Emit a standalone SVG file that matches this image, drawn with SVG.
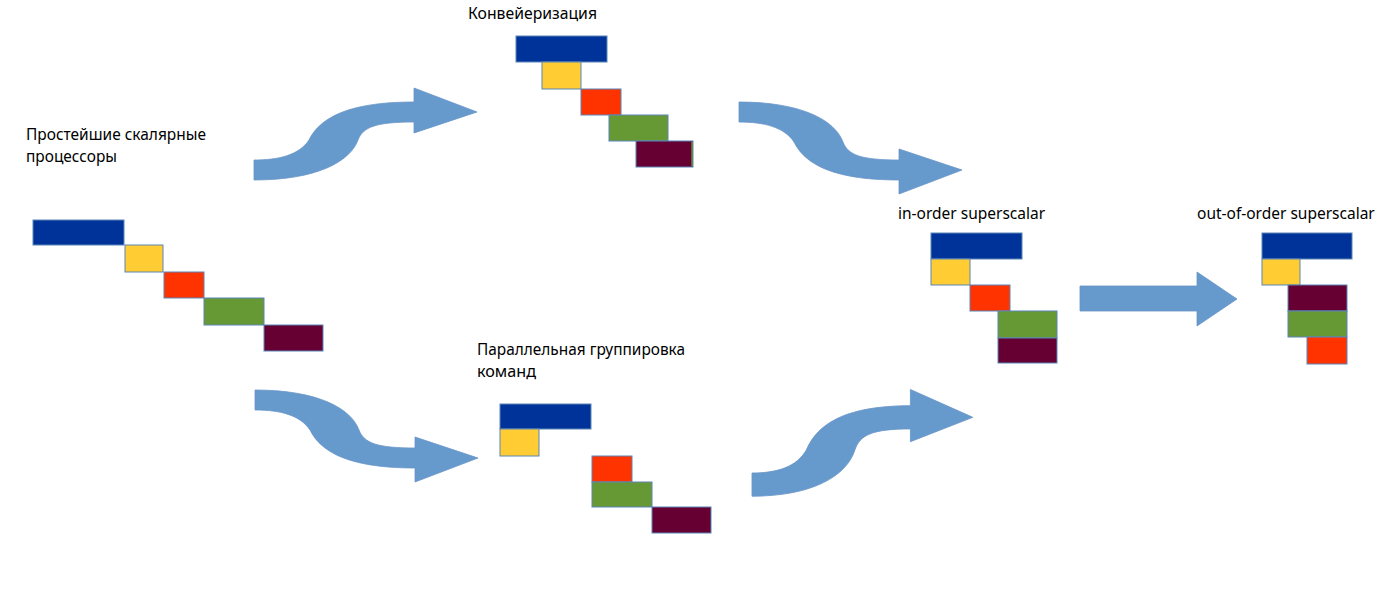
<svg xmlns="http://www.w3.org/2000/svg" xmlns:xlink="http://www.w3.org/1999/xlink" width="1400" height="607" viewBox="0 0 1400 607">
<style>
  .lbl { font-family: "Noto Sans", "Open Sans", "Liberation Sans", sans-serif; font-size: 15.5px; fill: #000; }
  .blk { stroke: #5b86b8; stroke-width: 1; }
  .b { fill: #003399; }
  .y { fill: #ffcc33; }
  .r { fill: #ff3300; }
  .g { fill: #669933; }
  .m { fill: #660033; }
  .arr { fill: #6699cc; stroke: #6a96c8; stroke-width: 0.8; }
</style>
<defs>
  <path id="sarrow" d="M0,0 C25,0 45,-5 55,-20 C65,-40 90,-58 160,-58 L160,-72 L223,-48 L160,-27 L160,-38 C122,-38 109,-33 104,-20 C96,2 62,20 0,20 Z"/>
</defs>
<rect width="1400" height="607" fill="#ffffff"/>

<g id="connectors">
  <use xlink:href="#sarrow" class="arr" transform="translate(254,160)"/>
  <use xlink:href="#sarrow" class="arr" transform="translate(255,410) scale(1,-1)"/>
  <use xlink:href="#sarrow" class="arr" transform="translate(739,122) scale(1,-1)"/>
  <use xlink:href="#sarrow" class="arr" transform="translate(752,473) scale(0.99,1.16)"/>
  <path class="arr" d="M1080,286 L1197,286 L1197,272 L1237,299 L1197,326 L1197,311 L1080,311 Z"/>
</g>

<g id="scalar">
  <text class="lbl" x="26" y="140" textLength="180" lengthAdjust="spacingAndGlyphs">Простейшие скалярные</text>
  <text class="lbl" x="26" y="162" textLength="91" lengthAdjust="spacingAndGlyphs">процессоры</text>
  <rect class="blk b" x="33" y="220" width="91" height="25"/>
  <rect class="blk y" x="125" y="245" width="38" height="27"/>
  <rect class="blk r" x="164" y="272" width="40" height="26"/>
  <rect class="blk g" x="204" y="298" width="60" height="27"/>
  <rect class="blk m" x="264" y="325" width="59" height="26"/>
</g>

<g id="pipeline">
  <text class="lbl" x="468" y="19" textLength="129" lengthAdjust="spacingAndGlyphs">Конвейеризация</text>
  <rect class="blk b" x="516" y="36" width="91" height="26"/>
  <rect class="blk y" x="542" y="62" width="39" height="27"/>
  <rect class="blk r" x="581" y="89" width="40" height="26"/>
  <rect class="blk g" x="609" y="115" width="59" height="26"/>
  <rect class="blk m" x="636" y="141" width="57" height="26"/>
  <line x1="692" y1="142" x2="692" y2="166" stroke="#66cc33" stroke-width="1"/>
</g>

<g id="grouping">
  <text class="lbl" x="477" y="355" textLength="208" lengthAdjust="spacingAndGlyphs">Параллельная группировка</text>
  <text class="lbl" x="477" y="377" textLength="59" lengthAdjust="spacingAndGlyphs">команд</text>
  <rect class="blk b" x="500" y="404" width="91" height="25"/>
  <rect class="blk y" x="500" y="429" width="39" height="27"/>
  <rect class="blk r" x="592" y="456" width="40" height="26"/>
  <rect class="blk g" x="592" y="482" width="60" height="25"/>
  <rect class="blk m" x="652" y="507" width="59" height="26"/>
</g>

<g id="inorder">
  <text class="lbl" x="898" y="219">in-order superscalar</text>
  <rect class="blk b" x="931" y="233" width="91" height="26"/>
  <rect class="blk y" x="931" y="259" width="39" height="26"/>
  <rect class="blk r" x="970" y="285" width="40" height="26"/>
  <rect class="blk g" x="998" y="311" width="59" height="27"/>
  <rect class="blk m" x="998" y="338" width="59" height="25"/>
</g>

<g id="outoforder">
  <text class="lbl" x="1197" y="219">out-of-order superscalar</text>
  <rect class="blk b" x="1262" y="233" width="90" height="26"/>
  <rect class="blk y" x="1262" y="259" width="38" height="26"/>
  <rect class="blk m" x="1288" y="285" width="59" height="26"/>
  <rect class="blk g" x="1288" y="311" width="59" height="26"/>
  <rect class="blk r" x="1307" y="337" width="40" height="27"/>
</g>
</svg>
